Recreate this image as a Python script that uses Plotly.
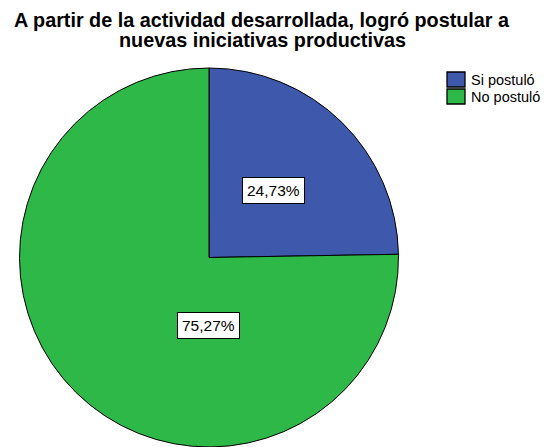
import plotly.graph_objects as go

# Survey result: applied to new productive initiatives after the activity
labels = ["Si postuló", "No postuló"]
values = [24.73, 75.27]
colors = ["#3E58AC", "#2EB848"]
title_lines = ["A partir de la actividad desarrollada, logró postular a",
               "nuevas iniciativas productivas"]

W, H = 552, 447
FONT = "Arial, Liberation Sans, sans-serif"


def px(x):
    return x / W


def py(y):
    return 1 - y / H


fig = go.Figure(
    go.Pie(
        labels=labels,
        values=values,
        marker=dict(colors=colors, line=dict(color="#000000", width=1)),
        sort=False,
        direction="clockwise",
        rotation=0,
        textinfo="none",
        hoverinfo="label+percent",
        showlegend=False,
        domain=dict(x=[px(19), px(399)], y=[0, py(68)]),
    )
)

# Value labels in white boxes, formatted from the data
label_pos = [(273.5, 190.5), (208.5, 325)]
for v, (lx, ly) in zip(values, label_pos):
    fig.add_annotation(
        x=px(lx), y=py(ly), xref="paper", yref="paper",
        xanchor="center", yanchor="middle", showarrow=False,
        text=f"{v:.2f}".replace(".", ",") + "%",
        font=dict(family=FONT, size=15.5, color="#000000"),
        bgcolor="#FFFFFF", bordercolor="#000000", borderwidth=1, borderpad=4,
    )

# Two-line bold title
for i, line in enumerate(title_lines):
    fig.add_annotation(
        x=px(262), y=py(20 + 19.5 * i), xref="paper", yref="paper",
        xanchor="center", yanchor="middle", showarrow=False,
        text=f"<b>{line}</b>",
        font=dict(family=FONT, size=19.8, color="#000000"),
    )

# Legend: colour swatches with category names
for i, (lab, col) in enumerate(zip(labels, colors)):
    top = 72 + 17 * i
    fig.add_shape(
        type="rect", xref="paper", yref="paper",
        x0=px(447), x1=px(465), y0=py(top), y1=py(top + 15),
        fillcolor=col, line=dict(color="#000000", width=1.3),
    )
    fig.add_annotation(
        x=px(469), y=py(top + 7.5), xref="paper", yref="paper",
        xanchor="left", yanchor="middle", showarrow=False,
        text=lab, font=dict(family=FONT, size=14.5, color="#000000"),
    )

fig.update_layout(
    width=W, height=H,
    margin=dict(l=0, r=0, t=0, b=0),
    paper_bgcolor="#FFFFFF",
    plot_bgcolor="#FFFFFF",
)

fig.write_html("out.html")
